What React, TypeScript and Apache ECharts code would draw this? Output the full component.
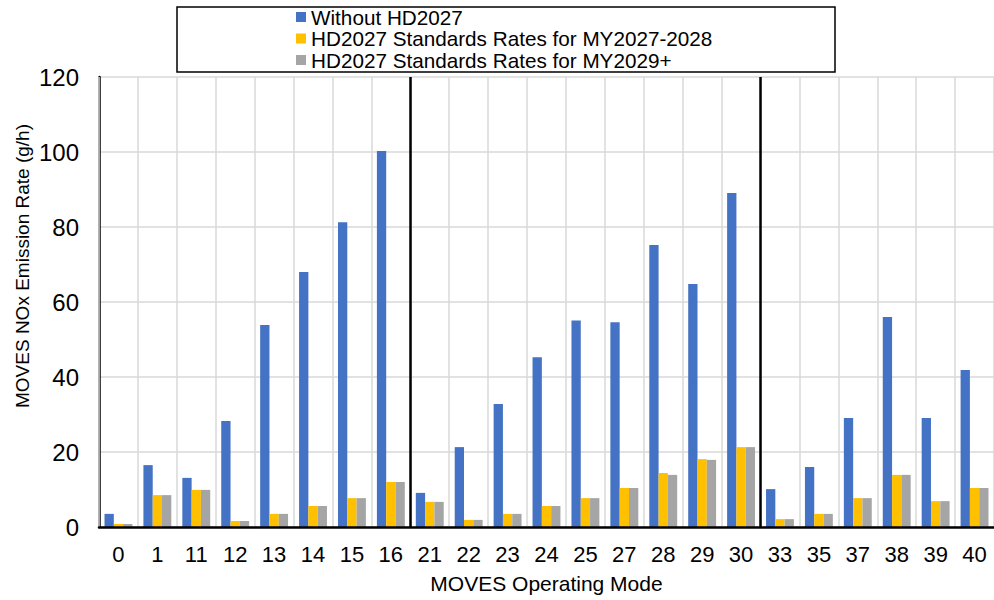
import React, { useEffect, useRef } from "react";
import * as echarts from "echarts";

const categories = ["0", "1", "11", "12", "13", "14", "15", "16", "21", "22", "23", "24", "25", "27", "28", "29", "30", "33", "35", "37", "38", "39", "40"];
const withoutHD2027 = [3.5, 16.5, 13.1, 28.3, 53.9, 68.0, 81.3, 100.3, 9.1, 21.3, 32.8, 45.3, 55.1, 54.6, 75.2, 64.8, 89.1, 10.1, 16.0, 29.1, 56.0, 29.1, 41.9];
const rates2027_2028 = [0.8, 8.5, 9.9, 1.6, 3.5, 5.6, 7.7, 12.0, 6.7, 1.9, 3.5, 5.6, 7.7, 10.4, 14.4, 18.1, 21.3, 2.1, 3.5, 7.7, 13.9, 6.9, 10.4];
const rates2029plus = [0.8, 8.5, 9.9, 1.6, 3.5, 5.6, 7.7, 12.0, 6.7, 1.9, 3.5, 5.6, 7.7, 10.4, 13.9, 17.9, 21.3, 2.1, 3.5, 7.7, 13.9, 6.9, 10.4];
const seriesNames = ["Without HD2027", "HD2027 Standards Rates for MY2027-2028", "HD2027 Standards Rates for MY2029+"];
const groupBoundaries = [8, 17];
const yTicks = { min: 0, max: 120, interval: 20 };

const FONT = '"Liberation Sans", Arial, sans-serif';

export default function App() {
  const ref = useRef<HTMLDivElement>(null);
  useEffect(() => {
    if (!ref.current) return;
    const chart = echarts.init(ref.current, undefined, { renderer: "svg" });
    const barCommon = { type: "bar" as const, barWidth: 9.3, barGap: "0%", xAxisIndex: 0, yAxisIndex: 0 };
    chart.setOption({
      animation: false,
      textStyle: { fontFamily: FONT },
      grid: { left: 99, right: 0, top: 77, bottom: 73 },
      legend: {
        orient: "vertical",
        left: 296,
        top: 6.5,
        padding: 0,
        itemGap: 0.5,
        itemWidth: 10,
        itemHeight: 10,
        icon: "rect",
        data: seriesNames,
        textStyle: { fontSize: 20.7, color: "#000", fontFamily: FONT, lineHeight: 21, padding: [0, 0, 0, 0] },
      },
      graphic: [
        {
          type: "rect",
          shape: { x: 177, y: 7, width: 658, height: 65 },
          style: { fill: "none", stroke: "#000", lineWidth: 1.5 },
          z: 10,
        },
        {
          type: "text",
          x: 22,
          y: 266,
          rotation: Math.PI / 2,
          style: {
            text: "MOVES NOx Emission Rate (g/h)",
            font: `19px ${FONT}`,
            fill: "#000",
            textAlign: "center",
            textVerticalAlign: "middle",
          },
        },
      ],
      xAxis: [
        {
          type: "category",
          data: categories,
          boundaryGap: true,
          name: "MOVES Operating Mode",
          nameLocation: "middle",
          nameGap: 46,
          nameTextStyle: { fontSize: 21, color: "#000", fontFamily: FONT },
          axisLine: { lineStyle: { color: "#000", width: 2.5 } },
          axisTick: { show: false },
          axisLabel: { fontSize: 22, color: "#000", margin: 16, interval: 0, fontFamily: FONT },
          splitLine: { show: true, interval: 0, lineStyle: { color: "#d9d9d9", width: 1.5 } },
          z: 3,
        },
        {
          type: "value",
          min: 0,
          max: categories.length,
          show: false,
          splitLine: { show: false },
        },
      ],
      yAxis: {
        type: "value",
        min: yTicks.min,
        max: yTicks.max,
        interval: yTicks.interval,
        axisLine: { show: true, lineStyle: { color: "#000", width: 2.5 } },
        axisTick: { show: false },
        axisLabel: { fontSize: 24, color: "#000", margin: 20, fontFamily: FONT },
        splitLine: { show: true, lineStyle: { color: "#d9d9d9", width: 1.5 } },
      },
      series: [
        { ...barCommon, name: seriesNames[0], data: withoutHD2027, itemStyle: { color: "#4472C4" } },
        { ...barCommon, name: seriesNames[1], data: rates2027_2028, itemStyle: { color: "#FFC000" } },
        { ...barCommon, name: seriesNames[2], data: rates2029plus, itemStyle: { color: "#A5A5A5" } },
        {
          type: "line",
          xAxisIndex: 1,
          yAxisIndex: 0,
          data: groupBoundaries.map((b) => [b, 0]),
          symbol: "none",
          lineStyle: { opacity: 0 },
          silent: true,
          markLine: {
            silent: true,
            symbol: "none",
            label: { show: false },
            lineStyle: { color: "#000", width: 2.5, type: "solid" },
            data: groupBoundaries.map((b) => ({ xAxis: b })),
          },
        },
      ],
    });
    return () => chart.dispose();
  }, []);
  return <div ref={ref} style={{ position: "fixed", left: 0, top: 0, width: 994, height: 600, background: "#fff" }} />;
}
